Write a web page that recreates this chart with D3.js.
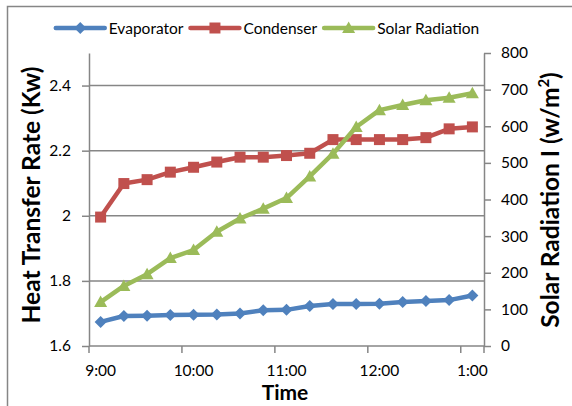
<!DOCTYPE html>
<html>
<head>
<meta charset="utf-8">
<script src="https://cdn.jsdelivr.net/npm/d3@7"></script>
<style>
  body { margin: 0; background: #fff; }
  text { font-family: Lato, "Open Sans", sans-serif; fill: #000; }
</style>
</head>
<body>
<svg id="canvas"></svg>
<script>
// readings every 15 minutes, 9:00 to 1:00
let times = ["9:00", "9:15", "9:30", "9:45", "10:00", "10:15", "10:30", "10:45", "11:00",
             "11:15", "11:30", "11:45", "12:00", "12:15", "12:30", "12:45", "1:00"]
let tickLabels = ["9:00", "10:00", "11:00", "12:00", "1:00"]

let evaporator = [1.674, 1.692, 1.693, 1.695, 1.696, 1.697, 1.700, 1.710, 1.711,
                  1.723, 1.729, 1.729, 1.730, 1.735, 1.738, 1.741, 1.755]
let condenser = [1.996, 2.099, 2.111, 2.134, 2.149, 2.165, 2.180, 2.180, 2.185,
                 2.192, 2.234, 2.234, 2.234, 2.234, 2.240, 2.267, 2.273]
let solarRadiation = [120, 164, 196, 240, 262, 312, 348, 375, 404,
                      463, 525, 598, 644, 658, 671, 678, 690]

let heatTicks = [1.6, 1.8, 2.0, 2.2, 2.4]
let solarTicks = [0, 100, 200, 300, 400, 500, 600, 700, 800]

let width = 572
let height = 406
let plotLeft = 89, plotRight = 484, plotTop = 53, plotBottom = 346
let grey = "#868686"

let canvas = d3.select("#canvas").attr("width", width).attr("height", height)

// chart area border (runs off the right and bottom edge)
canvas.append("rect")
      .attr("x", 7.5).attr("y", 6.5)
      .attr("width", 700).attr("height", 500)
      .attr("fill", "none").attr("stroke", grey).attr("stroke-width", 1.5)

let xScale = d3.scaleBand().domain(times).range([plotLeft, plotRight])
let bw = xScale.bandwidth()
let yHeat = d3.scaleLinear().domain([1.6, 2.5]).range([plotBottom, plotTop])
let ySolar = d3.scaleLinear().domain([0, 800]).range([plotBottom, plotTop])

// gridlines
canvas.append("g")
      .selectAll("line")
      .data(heatTicks.slice(1))
      .enter().append("line")
      .attr("x1", plotLeft).attr("x2", plotRight)
      .attr("y1", d => yHeat(d)).attr("y2", d => yHeat(d))
      .attr("stroke", grey).attr("stroke-width", 1.5)

let styleAxis = g => {
  g.selectAll("path, line").attr("stroke", grey).attr("stroke-width", 1.5)
  g.selectAll("text").attr("font-size", "15.5px").attr("font-family", "Lato, sans-serif").attr("fill", "#000")
}

canvas.append("g")
      .attr("transform", `translate(${plotLeft},0)`)
      .call(d3.axisLeft(yHeat).tickValues(heatTicks).tickSize(7).tickSizeOuter(0).tickPadding(11)
              .tickFormat(d => String(+d.toFixed(1))))
      .call(styleAxis)

canvas.append("g")
      .attr("transform", `translate(${plotRight},0)`)
      .call(d3.axisRight(ySolar).tickValues(solarTicks).tickSize(7).tickSizeOuter(0).tickPadding(10))
      .call(styleAxis)

// category axis: ticks on band edges every hour, labels centred on the category
let xAxis = canvas.append("g")
xAxis.append("line")
     .attr("x1", plotLeft).attr("x2", plotRight).attr("y1", plotBottom).attr("y2", plotBottom)
     .attr("stroke", grey).attr("stroke-width", 1.5)
xAxis.selectAll("line.tick")
     .data(tickLabels.map(t => xScale(t)).concat([plotRight]))
     .enter().append("line")
     .attr("class", "tick")
     .attr("x1", d => d).attr("x2", d => d)
     .attr("y1", plotBottom).attr("y2", plotBottom + 7)
     .attr("stroke", grey).attr("stroke-width", 1.5)
xAxis.selectAll("text")
     .data(tickLabels)
     .enter().append("text")
     .attr("x", t => xScale(t) + bw / 2)
     .attr("y", 376)
     .attr("text-anchor", "middle")
     .attr("font-size", "15.5px")
     .text(t => t)

// axis titles
canvas.append("text")
      .attr("transform", "translate(285,400)")
      .attr("text-anchor", "middle")
      .attr("font-size", "21px").attr("font-weight", "bold")
      .text("Time")

canvas.append("text")
      .attr("transform", "translate(40,195) rotate(-90)")
      .attr("text-anchor", "middle")
      .attr("font-size", "24.5px").attr("font-weight", "bold")
      .text("Heat Transfer Rate (Kw)")

let rTitle = canvas.append("text")
      .attr("transform", "translate(559,200) rotate(-90)")
      .attr("text-anchor", "middle")
      .attr("font-size", "24.5px").attr("font-weight", "bold")
rTitle.append("tspan").text("Solar Radiation I (w/m")
rTitle.append("tspan").attr("dy", -10).attr("font-size", "15px").text("2")
rTitle.append("tspan").attr("dy", 10).text(")")

// series
let markers = {
  diamond: "M0,-6L6,0L0,6L-6,0Z",
  square: "M-5.5,-5.5H5.5V5.5H-5.5Z",
  triangle: "M0,-6.5L6.5,5L-6.5,5Z"
}

let series = [
  { name: "Evaporator", values: evaporator, y: yHeat, color: "#4F81BD", marker: markers.diamond },
  { name: "Condenser", values: condenser, y: yHeat, color: "#C0504D", marker: markers.square },
  { name: "Solar Radiation", values: solarRadiation, y: ySolar, color: "#9BBB59", marker: markers.triangle }
]

series.forEach(s => {
  let line = d3.line()
               .x((d, i) => xScale(times[i]) + bw / 2)
               .y(d => s.y(d))
  canvas.append("path")
        .datum(s.values)
        .attr("d", line)
        .attr("fill", "none")
        .attr("stroke", s.color)
        .attr("stroke-width", 4.5)
        .attr("stroke-linejoin", "round")
  canvas.append("g")
        .selectAll("path")
        .data(s.values)
        .enter().append("path")
        .attr("d", s.marker)
        .attr("transform", (d, i) => `translate(${xScale(times[i]) + bw / 2},${s.y(d)})`)
        .attr("fill", s.color)
})

// legend, laid out left to right and centred
let legend = canvas.append("g")
let lx = 0
series.forEach(s => {
  let item = legend.append("g").attr("transform", `translate(${lx},0)`)
  item.append("line")
      .attr("x1", 0).attr("x2", 49).attr("y1", 0).attr("y2", 0)
      .attr("stroke", s.color).attr("stroke-width", 4.5).attr("stroke-linecap", "round")
  item.append("path")
      .attr("d", s.marker)
      .attr("transform", "translate(24.5,0)")
      .attr("fill", s.color)
  let label = item.append("text")
      .attr("x", 53).attr("y", 5.5)
      .attr("font-size", "15.5px")
      .text(s.name)
  lx += 53 + label.node().getComputedTextLength() + 7
})
let legendWidth = lx - 7
legend.attr("transform", `translate(${267.5 - legendWidth / 2},28)`)
</script>
</body>
</html>
